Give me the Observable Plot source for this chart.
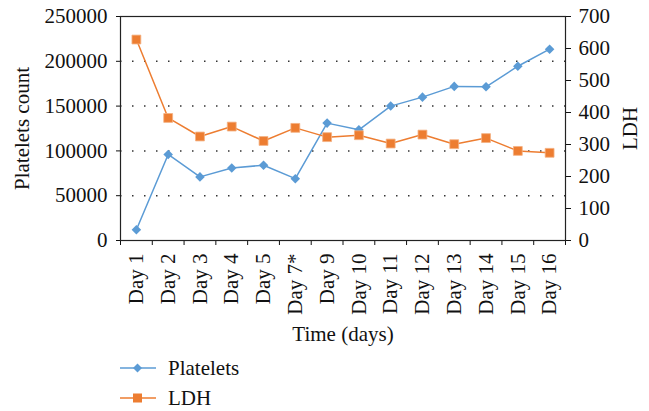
<!DOCTYPE html>
<html>
<head>
<meta charset="utf-8">
<script src="https://cdn.jsdelivr.net/npm/d3@7"></script>
<script src="https://cdn.jsdelivr.net/npm/@observablehq/plot@0.6"></script>
<style>
  html, body { margin: 0; padding: 0; background: white; }
  #chart { width: 649px; height: 350px; }
  .legend { font-family: "Liberation Serif", serif; font-size: 21px; color: #111; padding-top: 3px; }
  .legend .row { position: relative; height: 30px; line-height: 30px; }
  .legend svg { position: absolute; left: 120px; top: 9px; }
  .legend span { position: absolute; left: 168px; top: 0; }
</style>
</head>
<body>
<div id="chart"></div>
<script>
const days = ["Day 1", "Day 2", "Day 3", "Day 4", "Day 5", "Day 7*", "Day 9", "Day 10", "Day 11", "Day 12", "Day 13", "Day 14", "Day 15", "Day 16"];
const platelets = [12000, 96000, 71000, 81000, 84000, 69000, 131000, 123500, 150000, 160000, 172000, 171500, 194500, 213500];
const ldh = [628, 383, 325, 356, 311, 352, 323, 329, 303, 331, 301, 320, 280, 274];
const leftTicks = [0, 50000, 100000, 150000, 200000, 250000];
const rightTicks = [0, 100, 200, 300, 400, 500, 600, 700];
const gridTicks = [50000, 100000, 150000, 200000];
const seriesNames = ["Platelets", "LDH"];
const colors = ["#5b9bd5", "#ed7d31"];

const leftMax = 250000, rightMax = 700;
const k = leftMax / rightMax;
const data = days.map((d, i) => ({day: d, xi: i + 0.5, p: platelets[i], l: ldh[i] * k}));

const chart = Plot.plot({
  width: 649,
  height: 350,
  marginLeft: 120,
  marginRight: 84,
  marginTop: 16,
  marginBottom: 110,
  x: {type: "linear", domain: [0, days.length], axis: null},
  y: {domain: [0, leftMax], axis: null},
  style: {fontFamily: "'Liberation Serif', serif", fontSize: "21px", color: "#111", background: "white", overflow: "visible"},
  marks: [
    Plot.ruleY(gridTicks, {stroke: "#333", strokeDasharray: "1.5,10.5", strokeWidth: 1.5}),
    Plot.axisY({ticks: leftTicks, anchor: "left", tickSize: 4, tickPadding: 9, tickFormat: d => String(d), label: null}),
    Plot.axisY({ticks: rightTicks.map(v => v * k), anchor: "right", tickSize: 5, tickPadding: 8, tickFormat: d => String(Math.round(d / k)), label: null}),
    Plot.axisX({ticks: d3.range(0, days.length + 1), tickSize: 5, tickFormat: () => "", label: null}),
    Plot.axisX({ticks: data.map(d => d.xi), tickSize: 0, tickPadding: 13, tickRotate: -90, tickFormat: d => days[Math.floor(d)], label: null}),
    Plot.frame({stroke: "#222", strokeWidth: 1.2}),
    Plot.text(["Platelets count"], {frameAnchor: "left", dx: -98, rotate: -90, textAnchor: "middle", lineAnchor: "middle", fill: "#111"}),
    Plot.text(["LDH"], {frameAnchor: "right", dx: 65, rotate: -90, textAnchor: "middle", lineAnchor: "middle", fill: "#111"}),
    Plot.text(["Time (days)"], {frameAnchor: "bottom", dy: 94, textAnchor: "middle", lineAnchor: "middle", fill: "#111"}),
    Plot.line(data, {x: "xi", y: "p", stroke: colors[0], strokeWidth: 1.5}),
    Plot.dot(data, {x: "xi", y: "p", symbol: "diamond2", r: 4.3, fill: colors[0], stroke: "none"}),
    Plot.line(data, {x: "xi", y: "l", stroke: colors[1], strokeWidth: 1.5}),
    Plot.dot(data, {x: "xi", y: "l", symbol: "square", r: 5, fill: colors[1], stroke: "#f4b183", strokeWidth: 0.8})
  ]
});
document.getElementById("chart").appendChild(chart);

// legend below the SVG
const legend = d3.select("body").append("div").attr("class", "legend");
seriesNames.forEach((name, i) => {
  const row = legend.append("div").attr("class", "row");
  const s = row.append("svg").attr("width", 36).attr("height", 12);
  s.append("line").attr("x1", 0).attr("x2", 36).attr("y1", 6).attr("y2", 6).attr("stroke", colors[i]).attr("stroke-width", 1.5);
  if (i === 0) {
    s.append("path").attr("d", "M17.5,1.5L22,6L17.5,10.5L13,6Z").attr("fill", colors[i]);
  } else {
    s.append("rect").attr("x", 13).attr("y", 1.5).attr("width", 9).attr("height", 9).attr("fill", colors[i]);
  }
  row.append("span").text(name);
});
</script>
</body>
</html>
